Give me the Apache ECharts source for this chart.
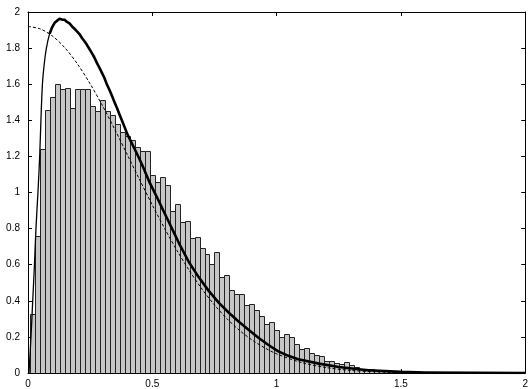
<!DOCTYPE html>
<html>
<head>
<meta charset="utf-8">
<script src="https://cdn.jsdelivr.net/npm/echarts@6/dist/echarts.min.js"></script>
<style>
html,body{margin:0;padding:0;background:#fff;}
#chart{width:531px;height:389px;}
</style>
</head>
<body>
<div id="chart"></div>
<script>
// Histogram: bin width and bar heights (bins centred at 0.02, 0.04, ...)
var binWidth = 0.02;
var barHeights = [
  0.326, 0.761, 1.241, 1.459, 1.528, 1.602, 1.576, 1.580, 1.469, 1.574,
  1.571, 1.576, 1.478, 1.450, 1.511, 1.450, 1.428, 1.380, 1.335, 1.311,
  1.290, 1.250, 1.228, 1.228, 1.098, 1.058, 1.085, 1.041, 0.900, 0.937,
  0.837, 0.841, 0.749, 0.756, 0.691, 0.659, 0.603, 0.671, 0.530, 0.544,
  0.459, 0.435, 0.435, 0.374, 0.380, 0.348, 0.317, 0.274, 0.282, 0.237,
  0.197, 0.217, 0.200, 0.161, 0.135, 0.141, 0.111, 0.098, 0.093, 0.065,
  0.065, 0.056, 0.050, 0.061, 0.043, 0.035, 0.024, 0.020, 0.020, 0.018,
  0.016, 0.012, 0.010, 0.012, 0.008, 0.006, 0.007, 0.005, 0.004, 0.004,
  0.003, 0.002, 0.003, 0.002, 0.001, 0.001, 0.001, 0.000, 0.001, 0.001
];

// Dashed reference curve
var dashX = [0, 0.05, 0.1, 0.15, 0.2, 0.25, 0.3, 0.35, 0.4, 0.45, 0.5, 0.55, 0.6, 0.65, 0.7, 0.75, 0.8, 0.85, 0.9, 0.95, 1.0, 1.1, 1.2, 1.3, 1.4, 1.5, 1.6, 1.8, 2.0];
var dashY = [1.92, 1.906, 1.865, 1.799, 1.710, 1.602, 1.480, 1.347, 1.208, 1.068, 0.931, 0.800, 0.677, 0.565, 0.465, 0.377, 0.301, 0.237, 0.184, 0.141, 0.106, 0.058, 0.030, 0.014, 0.0066, 0.0028, 0.001, 0.0001, 0];

// Solid curve: steep rise (thin) and main body (thick)
var riseX = [0.004, 0.012, 0.019, 0.026, 0.032, 0.040, 0.047, 0.052, 0.058, 0.066, 0.074, 0.087, 0.097];
var riseY = [0.0, 0.2, 0.4, 0.6, 0.8, 1.0, 1.2, 1.4, 1.6, 1.72, 1.80, 1.88, 1.915];
var mainX = [0.087, 0.097, 0.107, 0.117, 0.127, 0.137, 0.147, 0.157, 0.167, 0.177, 0.187, 0.197, 0.207, 0.217, 0.227, 0.237, 0.247, 0.257, 0.267, 0.277, 0.287, 0.297, 0.307, 0.317, 0.327, 0.338, 0.348, 0.358, 0.368, 0.384, 0.40, 0.424, 0.447, 0.467, 0.487, 0.507, 0.527, 0.547, 0.567, 0.587, 0.607, 0.647, 0.687, 0.727, 0.767, 0.807, 0.847, 0.887, 0.927, 0.967, 1.007, 1.047, 1.087, 1.17, 1.25, 1.33, 1.37, 1.5, 1.6, 1.8, 2.0];
var mainY = [1.88, 1.915, 1.94, 1.952, 1.962, 1.958, 1.957, 1.945, 1.937, 1.92, 1.907, 1.893, 1.878, 1.856, 1.838, 1.818, 1.795, 1.772, 1.748, 1.718, 1.692, 1.664, 1.636, 1.600, 1.571, 1.534, 1.500, 1.468, 1.432, 1.378, 1.322, 1.255, 1.190, 1.128, 1.062, 1.006, 0.950, 0.892, 0.835, 0.778, 0.720, 0.615, 0.530, 0.455, 0.390, 0.335, 0.285, 0.240, 0.195, 0.155, 0.120, 0.095, 0.076, 0.052, 0.033, 0.021, 0.015, 0.006, 0.003, 0.001, 0.0003];

// Tick settings
var xMin = 0, xMax = 2, xStep = 0.5;
var yMin = 0, yMax = 2, yStep = 0.2;

function zip(a, b) { return a.map(function (v, i) { return [v, b[i]]; }); }
var barData = barHeights.map(function (h, i) { return [(i + 1) * binWidth, h]; });

var chart = echarts.init(document.getElementById('chart'), null, { renderer: 'canvas' });
var labelFont = { color: '#000', fontSize: 10, fontFamily: 'Liberation Sans, Arial, sans-serif' };

function axisBase(extra) {
  var o = {
    type: 'value',
    axisLine: { show: true, onZero: false, lineStyle: { color: '#000', width: 1 } },
    axisTick: { show: true, inside: true, length: 4, lineStyle: { color: '#000' } },
    splitLine: { show: false },
    axisLabel: Object.assign({ show: true }, labelFont)
  };
  return Object.assign(o, extra);
}

chart.setOption({
  animation: false,
  backgroundColor: '#fff',
  grid: { left: 28, right: 3, top: 12, bottom: 16, containLabel: false },
  xAxis: [
    axisBase({ min: xMin, max: xMax, interval: xStep, position: 'bottom',
      axisLabel: Object.assign({ margin: 6 }, labelFont) }),
    axisBase({ min: xMin, max: xMax, interval: xStep, position: 'top',
      axisLabel: { show: false } })
  ],
  yAxis: [
    axisBase({ min: yMin, max: yMax, interval: yStep, position: 'left',
      axisLabel: Object.assign({ margin: 8 }, labelFont) }),
    axisBase({ min: yMin, max: yMax, interval: yStep, position: 'right',
      axisLabel: { show: false } })
  ],
  series: [
    {
      type: 'custom',
      xAxisIndex: 0, yAxisIndex: 0,
      data: barData,
      clip: true,
      renderItem: function (params, api) {
        var x = api.value(0), v = api.value(1);
        if (!(v > 0)) return null;
        var p0 = api.coord([x - binWidth / 2, v]);
        var p1 = api.coord([x + binWidth / 2, 0]);
        var x0 = Math.round(p0[0]) + 0.5, x1 = Math.round(p1[0]) + 0.5;
        var y0 = Math.round(p0[1]) + 0.5, y1 = Math.round(p1[1]) + 0.5;
        return {
          type: 'rect',
          shape: { x: x0, y: y0, width: x1 - x0, height: y1 - y0 },
          style: { fill: '#c6c6c6', stroke: '#222', lineWidth: 1 }
        };
      },
      z: 1
    },
    {
      type: 'line',
      data: zip(dashX, dashY),
      smooth: 0.3,
      showSymbol: false,
      lineStyle: { color: '#000', width: 1, type: [3, 2] },
      z: 2
    },
    {
      type: 'line',
      data: zip(riseX, riseY),
      smooth: 0.3,
      showSymbol: false,
      lineStyle: { color: '#000', width: 1.3 },
      z: 3
    },
    {
      type: 'line',
      data: zip(mainX, mainY),
      smooth: false,
      showSymbol: false,
      lineStyle: { color: '#000', width: 2.6, join: 'round' },
      z: 3
    }
  ]
});
</script>
</body>
</html>
